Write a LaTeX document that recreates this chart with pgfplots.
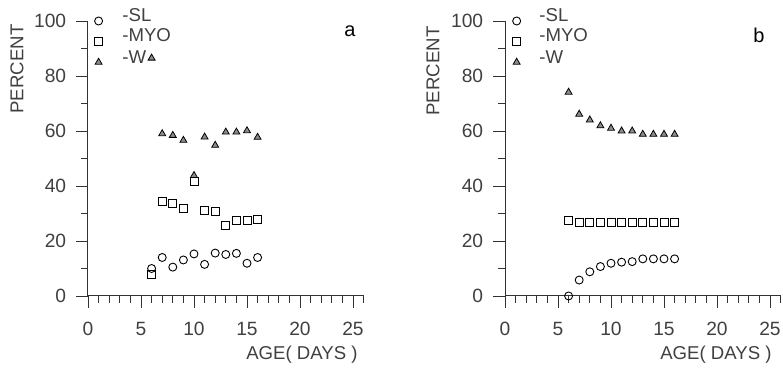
\documentclass[border=0pt]{standalone}
\usepackage{pgfplots}
\pgfplotsset{compat=1.18}
\usepackage{fontspec}
\setmainfont{Liberation Sans}
\pgfplotsset{panel/.style={
  scale only axis, width=137.8pt, height=137.5pt,
  xmin=0, xmax=26, ymin=0, ymax=100,
  axis lines=left, axis line style={-, black!80, line width=0.5pt},
  xtick={0,5,...,25}, minor xtick={1,...,26},
  ytick={0,20,...,100}, minor ytick={10,30,...,90},
  tick align=outside, major tick length=6pt, minor tick length=3.3pt,
  tick style={black!80, line width=0.45pt},
  ticklabel style={font=\fontsize{9.6}{10}\selectfont, text=black!75},
  xticklabel style={yshift=-3.75pt},
  yticklabel style={xshift=-1.4pt},
  /pgf/number format/assume math mode=true,
  clip=false,
}}
\tikzset{mk/.style={only marks, mark size=2pt, mark options={solid, draw=black, line width=0.45pt}}}
\begin{document}
\begin{tikzpicture}
\useasboundingbox (0,0) rectangle (391.5pt,184pt);
% ---------------- panel a
\begin{axis}[panel, at={(44pt,36pt)}, anchor=south west]
\addplot[mk, mark=o] coordinates {(1,100)(6,10)(7,14)(8,10.5)(9,13.1)(10,15.3)(11,11.5)(12,15.6)(13,15.1)(14,15.5)(15,11.9)(16,14)};
\addplot[mk, mark=square] coordinates {(1,92.7)(6,7.8)(7,34.2)(8,33.5)(9,31.8)(10,41.7)(11,31.2)(12,30.8)(13,25.5)(14,27.3)(15,27.6)(16,28)};
\addplot[mk, mark=triangle*, mark options={fill=black!45}] coordinates {(1,85)(6,86.5)(7,59)(8,58.4)(9,56.6)(10,43.8)(11,57.8)(12,54.8)(13,59.6)(14,59.6)(15,60.1)(16,57.7)};
\end{axis}
% ---------------- panel b
\begin{axis}[panel, at={(252.5pt,36pt)}, anchor=south west]
\addplot[mk, mark=o] coordinates {(1.1,100)(6,0)(7,5.8)(8,8.8)(9,10.7)(10,11.9)(11,12.3)(12,12.5)(13,13.5)(14,13.5)(15,13.5)(16,13.5)};
\addplot[mk, mark=square] coordinates {(1.1,92.5)(6,27.6)(7,26.7)(8,26.7)(9,26.7)(10,26.7)(11,26.7)(12,26.7)(13,26.7)(14,26.7)(15,26.7)(16,26.7)};
\addplot[mk, mark=triangle*, mark options={fill=black!45}] coordinates {(1.1,85)(6,74.1)(7,66.1)(8,64)(9,61.9)(10,61)(11,60)(12,60)(13,58.8)(14,58.8)(15,58.8)(16,58.8)};
\end{axis}
% ---------------- texts
\tikzset{lab/.style={font=\fontsize{9.3}{10}\selectfont, text=black!75, inner sep=0pt}}
\node[lab, rotate=90] at (8.5pt,149.5pt) {PERCENT};
\node[lab, rotate=90] at (216.5pt,148.5pt) {PERCENT};
\node[lab, anchor=east] at (179pt,6.5pt) {AGE( DAYS )};
\node[lab, anchor=east] at (386pt,6.5pt) {AGE( DAYS )};
\node[lab, anchor=west] at (61pt,176.5pt) {-SL};
\node[lab, anchor=west] at (61pt,166.5pt) {-MYO};
\node[lab, anchor=west] at (61pt,155.5pt) {-W};
\node[lab, anchor=west] at (269.5pt,176.5pt) {-SL};
\node[lab, anchor=west] at (269.5pt,166.5pt) {-MYO};
\node[lab, anchor=west] at (269.5pt,155.5pt) {-W};
\node[font=\fontsize{10}{11}\selectfont, inner sep=0pt] at (175pt,168.5pt) {a};
\node[font=\fontsize{10}{11}\selectfont, inner sep=0pt] at (379.5pt,166.5pt) {b};
\end{tikzpicture}
\end{document}
